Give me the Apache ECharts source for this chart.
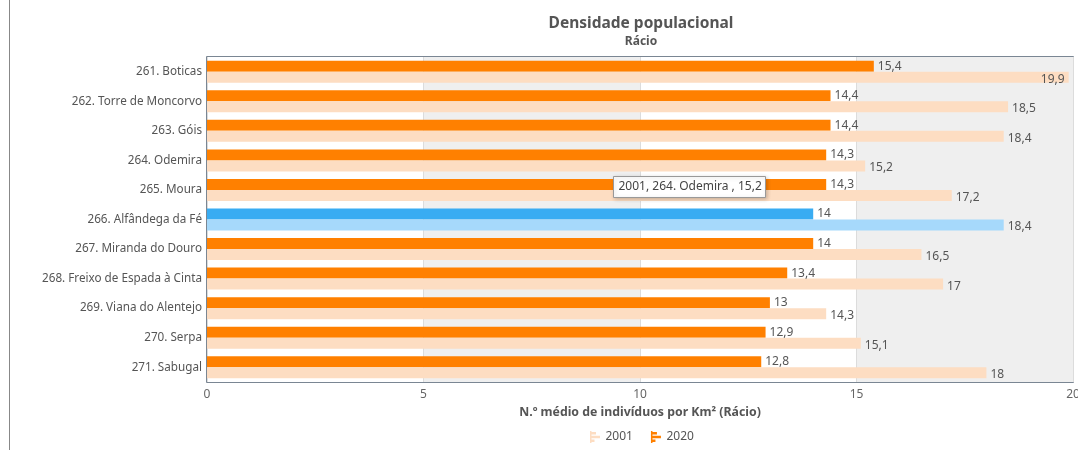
<!DOCTYPE html>
<html>
<head>
<meta charset="utf-8">
<script src="https://cdn.jsdelivr.net/npm/echarts@6/dist/echarts.min.js"></script>
<style>
  html, body { margin: 0; padding: 0; background: #fff; }
  #main { width: 1078px; height: 450px; }
</style>
</head>
<body>
<div id="main"></div>
<script>
var categories = [
    '261. Boticas', '262. Torre de Moncorvo', '263. Góis', '264. Odemira',
    '265. Moura', '266. Alfândega da Fé', '267. Miranda do Douro',
    '268. Freixo de Espada à Cinta', '269. Viana do Alentejo', '270. Serpa', '271. Sabugal'
];
var values2020 = [15.4, 14.4, 14.4, 14.3, 14.3, 14, 14, 13.4, 13, 12.9, 12.8];
var values2001 = [19.9, 18.5, 18.4, 15.2, 17.2, 18.4, 16.5, 17, 14.3, 15.1, 18];
var xTicks = [0, 5, 10, 15, 20];
var highlightIdx = 5;

var font = '"Noto Sans", Tahoma, sans-serif';
var legendIcon = 'path://M0,0H1.5V12H0Z M1.5,1H6V3.6H1.5Z M1.5,4.7H10V7.3H1.5Z M1.5,8.4H4.5V11H1.5Z';

function fmt(v) {
    return String(v).replace('.', ',');
}

function buildData(vals, color, hiColor, big) {
    return vals.map(function (v, i) {
        var item = { value: v, itemStyle: { color: i === highlightIdx ? hiColor : color } };
        if (big && v > 19.5) {
            item.label = { position: 'insideRight', offset: [0, 2] };
        }
        return item;
    });
}

var chart = echarts.init(document.getElementById('main'));
var option = {
    animation: false,
    title: {
        text: 'Densidade populacional',
        subtext: 'Rácio',
        left: 636,
        textAlign: 'center',
        top: 11,
        itemGap: 4,
        textStyle: { fontFamily: font, fontSize: 15.5, fontWeight: 'bold', color: '#555' },
        subtextStyle: { fontFamily: font, fontSize: 12, fontWeight: 'bold', color: '#555' }
    },
    legend: {
        bottom: 2,
        left: 585,
        data: ['2001', '2020'],
        icon: legendIcon,
        itemWidth: 11,
        itemHeight: 12,
        itemGap: 18,
        textStyle: { fontFamily: font, fontSize: 12, color: '#555' }
    },
    grid: {
        left: 207,
        right: 5,
        top: 57,
        bottom: 68,
        show: true,
        borderColor: '#4f5f70',
        borderWidth: 1.5,
        containLabel: false,
        outerBoundsMode: 'none'
    },
    xAxis: {
        type: 'value',
        min: xTicks[0],
        max: xTicks[xTicks.length - 1],
        interval: 5,
        name: 'N.º médio de indivíduos por Km² (Rácio)',
        nameLocation: 'middle',
        nameGap: 24,
        nameTextStyle: { fontFamily: font, fontSize: 12.3, fontWeight: 'bold', color: '#555' },
        axisLine: { show: false },
        axisTick: { show: false },
        axisLabel: { fontFamily: font, fontSize: 12, color: '#666', margin: 7 },
        splitLine: { show: true, lineStyle: { color: '#dcdcdc' } },
        splitArea: { show: true, areaStyle: { color: ['#ffffff', '#efefef'] } }
    },
    yAxis: {
        type: 'category',
        inverse: true,
        data: categories,
        axisLine: { show: false },
        axisTick: { show: false },
        axisLabel: { fontFamily: font, fontSize: 11.7, color: '#555', margin: 5 }
    },
    series: [
        {
            name: '2020',
            type: 'bar',
            barWidth: 11,
            barGap: 0,
            itemStyle: { color: '#ff8000' },
            label: {
                show: true, position: 'right', distance: 4,
                fontFamily: font, fontSize: 12, color: '#555',
                formatter: function (p) { return fmt(p.value); }
            },
            data: buildData(values2020, '#ff8000', '#39acf2', false)
        },
        {
            name: '2001',
            type: 'bar',
            barWidth: 11,
            itemStyle: { color: '#fdddc2' },
            label: {
                show: true, position: 'right', distance: 4, offset: [0, 2],
                fontFamily: font, fontSize: 12, color: '#555',
                formatter: function (p) { return fmt(p.value); }
            },
            data: buildData(values2001, '#fdddc2', '#a6d9fb', true)
        }
    ],
    graphic: [
        {
            type: 'line',
            z: 100,
            shape: { x1: 9.5, y1: 0, x2: 9.5, y2: 450 },
            style: { stroke: '#888', lineWidth: 1 }
        },
        {
            type: 'group',
            z: 100,
            left: 613,
            top: 176,
            children: [
                {
                    type: 'rect',
                    z: 100,
                    shape: { x: 0, y: 0, width: 152, height: 21 },
                    style: { fill: '#fff', stroke: '#999', lineWidth: 1, shadowBlur: 4, shadowColor: 'rgba(0,0,0,0.2)', shadowOffsetX: 1, shadowOffsetY: 1 }
                },
                {
                    type: 'text',
                    z: 101,
                    x: 5,
                    y: 4,
                    style: {
                        text: '2001, ' + categories[3] + ' , ' + fmt(values2001[3]),
                        fontFamily: font, fontSize: 12, fill: '#444'
                    }
                }
            ]
        }
    ]
};
chart.setOption(option);
</script>
</body>
</html>
